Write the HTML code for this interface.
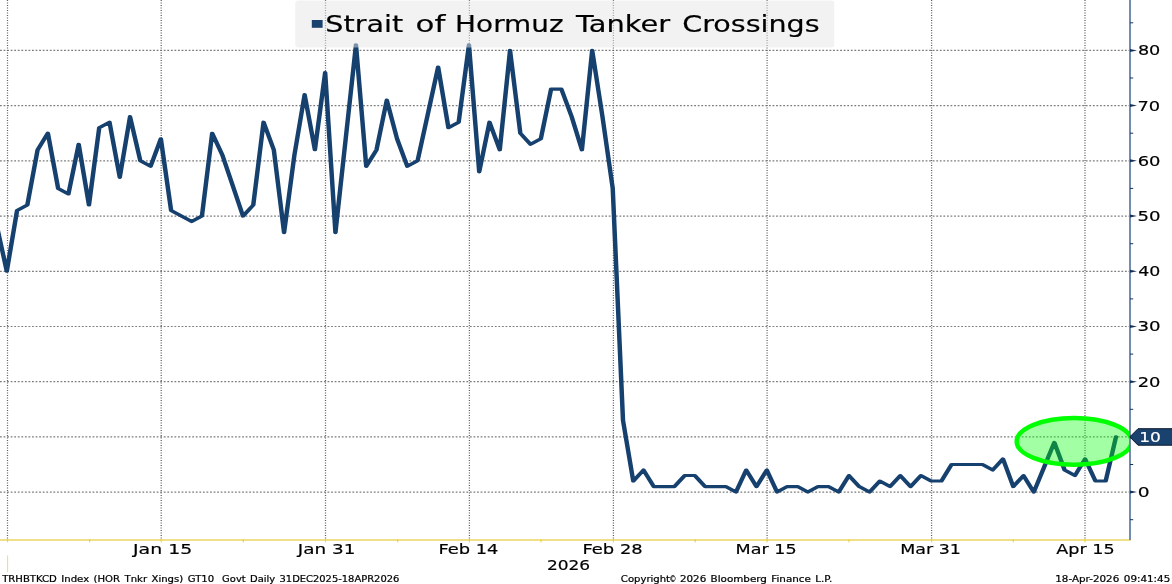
<!DOCTYPE html>
<html lang="en"><head><meta charset="utf-8"><title>Strait of Hormuz Tanker Crossings</title>
<style>
html,body{margin:0;padding:0;background:#fff;}
body{width:1172px;height:584px;overflow:hidden;}
svg{display:block;font-family:'DejaVu Sans','Liberation Sans',sans-serif;}
</style></head><body>
<svg width="1172" height="584" viewBox="0 0 1172 584">
<defs><clipPath id="plotclip"><rect x="0" y="0" width="1130" height="540"/></clipPath></defs>
<rect width="1172" height="584" fill="#fff"/>

<g stroke="#5e5e5e" stroke-width="1.1" fill="none">
<line x1="0" y1="492.1" x2="1129" y2="492.1" stroke="#7c7c7c" stroke-width="1.2" stroke-dasharray="1.8 1.76"/>
<line x1="0" y1="436.9" x2="1129" y2="436.9" stroke="#7c7c7c" stroke-width="1.2" stroke-dasharray="1.8 1.76"/>
<line x1="0" y1="381.7" x2="1129" y2="381.7" stroke="#7c7c7c" stroke-width="1.2" stroke-dasharray="1.8 1.76"/>
<line x1="0" y1="326.5" x2="1129" y2="326.5" stroke="#7c7c7c" stroke-width="1.2" stroke-dasharray="1.8 1.76"/>
<line x1="0" y1="271.3" x2="1129" y2="271.3" stroke="#7c7c7c" stroke-width="1.2" stroke-dasharray="1.8 1.76"/>
<line x1="0" y1="216.1" x2="1129" y2="216.1" stroke="#7c7c7c" stroke-width="1.2" stroke-dasharray="1.8 1.76"/>
<line x1="0" y1="160.8" x2="1129" y2="160.8" stroke="#7c7c7c" stroke-width="1.2" stroke-dasharray="1.8 1.76"/>
<line x1="0" y1="105.6" x2="1129" y2="105.6" stroke="#7c7c7c" stroke-width="1.2" stroke-dasharray="1.8 1.76"/>
<line x1="0" y1="50.4" x2="1129" y2="50.4" stroke="#7c7c7c" stroke-width="1.2" stroke-dasharray="1.8 1.76"/>
<line x1="7.5" y1="0" x2="7.5" y2="539" stroke-width="1.25" stroke-dasharray="1.1 1.4"/>
<line x1="161.2" y1="0" x2="161.2" y2="539" stroke-width="1.25" stroke-dasharray="1.1 1.4"/>
<line x1="325.5" y1="0" x2="325.5" y2="539" stroke-width="1.25" stroke-dasharray="1.1 1.4"/>
<line x1="469.4" y1="0" x2="469.4" y2="539" stroke-width="1.25" stroke-dasharray="1.1 1.4"/>
<line x1="613.4" y1="0" x2="613.4" y2="539" stroke-width="1.25" stroke-dasharray="1.1 1.4"/>
<line x1="767.1" y1="0" x2="767.1" y2="539" stroke-width="1.25" stroke-dasharray="1.1 1.4"/>
<line x1="931.6" y1="0" x2="931.6" y2="539" stroke-width="1.25" stroke-dasharray="1.1 1.4"/>
<line x1="1085.0" y1="0" x2="1085.0" y2="539" stroke-width="1.25" stroke-dasharray="1.1 1.4"/>
</g>
<g transform="scale(1.19,0.834)"><polyline points="-2.92,268.98 5.71,325.25 14.34,252.43 22.97,245.81 31.61,179.61 40.24,159.75 48.87,225.95 57.50,232.57 66.13,172.99 74.76,245.81 83.39,153.13 92.02,146.51 100.65,212.71 109.28,139.89 117.91,192.85 126.54,199.47 135.17,166.37 143.80,252.43 152.43,259.05 161.06,265.67 169.69,259.05 178.32,159.75 186.95,186.23 195.58,222.64 204.21,259.05 212.84,245.81 221.47,146.51 230.10,179.61 238.73,278.91 247.36,186.23 255.99,113.41 264.62,179.61 273.25,86.94 281.88,278.91 290.51,166.37 299.14,53.84 307.77,199.47 316.40,179.61 325.03,120.03 333.66,166.37 342.29,199.47 350.92,192.85 359.55,136.58 368.18,80.32 376.82,153.13 385.45,146.51 394.08,53.84 402.71,206.09 411.34,146.51 419.97,179.61 428.60,60.46 437.23,159.75 445.86,172.99 454.49,166.37 463.12,106.79 471.75,106.79 480.38,139.89 489.01,179.61 497.64,60.46 506.27,139.89 514.90,225.95 523.53,503.99 532.16,576.81 540.79,563.57 549.42,583.43 558.05,583.43 566.68,583.43 575.31,570.19 583.94,570.19 592.57,583.43 601.20,583.43 609.83,583.43 618.46,590.05 627.09,563.57 635.72,583.43 644.35,563.57 652.98,590.05 661.61,583.43 670.24,583.43 678.87,590.05 687.50,583.43 696.13,583.43 704.76,590.05 713.39,570.19 722.03,583.43 730.66,590.05 739.29,576.81 747.92,583.43 756.55,570.19 765.18,583.43 773.81,570.19 782.44,576.81 791.07,576.81 799.70,556.95 808.33,556.95 816.96,556.95 825.59,556.95 834.22,563.57 842.85,550.33 851.48,583.43 860.11,570.19 868.74,590.05 877.37,560.26 886.00,530.47 894.63,563.57 903.26,570.19 911.89,550.33 920.52,576.81 929.15,576.81 937.78,523.85" fill="none" stroke="#16406e" stroke-width="3.75" stroke-linejoin="round" stroke-linecap="round"/></g>
<rect x="295.3" y="0.5" width="538.9" height="46.9" rx="3" ry="3" fill="#e6e6e6" fill-opacity="0.5"/>
<rect x="311.8" y="20" width="10.8" height="7.8" fill="#1a426e"/>
<g clip-path="url(#plotclip)"><ellipse cx="1074.1" cy="441.4" rx="57.4" ry="23.4" fill="#00ff00" fill-opacity="0.36" stroke="#00ff00" stroke-width="4.5"/></g>
<line x1="0" y1="539.9" x2="1131" y2="539.9" stroke="#f0e08a" stroke-width="2"/>
<line x1="7.5" y1="539" x2="7.5" y2="542.2" stroke="#f0d23c" stroke-width="1.2"/>
<line x1="161.2" y1="539" x2="161.2" y2="542.2" stroke="#f0d23c" stroke-width="1.2"/>
<line x1="325.5" y1="539" x2="325.5" y2="542.2" stroke="#f0d23c" stroke-width="1.2"/>
<line x1="469.4" y1="539" x2="469.4" y2="542.2" stroke="#f0d23c" stroke-width="1.2"/>
<line x1="613.4" y1="539" x2="613.4" y2="542.2" stroke="#f0d23c" stroke-width="1.2"/>
<line x1="767.1" y1="539" x2="767.1" y2="542.2" stroke="#f0d23c" stroke-width="1.2"/>
<line x1="931.6" y1="539" x2="931.6" y2="542.2" stroke="#f0d23c" stroke-width="1.2"/>
<line x1="1085.0" y1="539" x2="1085.0" y2="542.2" stroke="#f0d23c" stroke-width="1.2"/>
<line x1="89.6" y1="539" x2="89.6" y2="542.2" stroke="#f0d23c" stroke-width="1.2"/>
<line x1="243.3" y1="539" x2="243.3" y2="542.2" stroke="#f0d23c" stroke-width="1.2"/>
<line x1="397.7" y1="539" x2="397.7" y2="542.2" stroke="#f0d23c" stroke-width="1.2"/>
<line x1="541.0" y1="539" x2="541.0" y2="542.2" stroke="#f0d23c" stroke-width="1.2"/>
<line x1="695.3" y1="539" x2="695.3" y2="542.2" stroke="#f0d23c" stroke-width="1.2"/>
<line x1="849.0" y1="539" x2="849.0" y2="542.2" stroke="#f0d23c" stroke-width="1.2"/>
<line x1="1013.3" y1="539" x2="1013.3" y2="542.2" stroke="#f0d23c" stroke-width="1.2"/>
<line x1="7.6" y1="555.5" x2="7.6" y2="572" stroke="#f0d860" stroke-width="0.9"/>
<line x1="1130" y1="0" x2="1130" y2="540" stroke="#6e87aa" stroke-width="1.9"/>
<polygon points="1130,490.6 1137,492.1 1130,493.6" fill="#16325c"/>
<polygon points="1130,435.4 1137,436.9 1130,438.4" fill="#16325c"/>
<polygon points="1130,380.2 1137,381.7 1130,383.2" fill="#16325c"/>
<polygon points="1130,325.0 1137,326.5 1130,328.0" fill="#16325c"/>
<polygon points="1130,269.8 1137,271.3 1130,272.8" fill="#16325c"/>
<polygon points="1130,214.6 1137,216.1 1130,217.6" fill="#16325c"/>
<polygon points="1130,159.3 1137,160.8 1130,162.3" fill="#16325c"/>
<polygon points="1130,104.1 1137,105.6 1130,107.1" fill="#16325c"/>
<polygon points="1130,48.9 1137,50.4 1130,51.9" fill="#16325c"/>
<line x1="1130" y1="519.7" x2="1133.2" y2="519.7" stroke="#16325c" stroke-width="1"/>
<line x1="1130" y1="464.5" x2="1133.2" y2="464.5" stroke="#16325c" stroke-width="1"/>
<line x1="1130" y1="409.3" x2="1133.2" y2="409.3" stroke="#16325c" stroke-width="1"/>
<line x1="1130" y1="354.1" x2="1133.2" y2="354.1" stroke="#16325c" stroke-width="1"/>
<line x1="1130" y1="298.9" x2="1133.2" y2="298.9" stroke="#16325c" stroke-width="1"/>
<line x1="1130" y1="243.7" x2="1133.2" y2="243.7" stroke="#16325c" stroke-width="1"/>
<line x1="1130" y1="188.4" x2="1133.2" y2="188.4" stroke="#16325c" stroke-width="1"/>
<line x1="1130" y1="133.2" x2="1133.2" y2="133.2" stroke="#16325c" stroke-width="1"/>
<line x1="1130" y1="78.0" x2="1133.2" y2="78.0" stroke="#16325c" stroke-width="1"/>
<line x1="1130" y1="22.8" x2="1133.2" y2="22.8" stroke="#16325c" stroke-width="1"/>
<polygon points="1129.8,436.9 1138,428.7 1173,428.7 1173,445.2 1138,445.2" fill="#1a426e" stroke="#0a1a30" stroke-width="1"/>
<text x="132.97" y="553.5" textLength="59.42" lengthAdjust="spacingAndGlyphs" font-size="14.1" fill="#000" stroke="#000" stroke-width="0.18">Jan 15</text>
<text x="297.79" y="553.5" textLength="57.61" lengthAdjust="spacingAndGlyphs" font-size="14.1" fill="#000" stroke="#000" stroke-width="0.18">Jan 31</text>
<text x="438.48" y="553.5" textLength="59.93" lengthAdjust="spacingAndGlyphs" font-size="14.1" fill="#000" stroke="#000" stroke-width="0.18">Feb 14</text>
<text x="582.51" y="553.5" textLength="60.17" lengthAdjust="spacingAndGlyphs" font-size="14.1" fill="#000" stroke="#000" stroke-width="0.18">Feb 28</text>
<text x="735.60" y="553.5" textLength="61.07" lengthAdjust="spacingAndGlyphs" font-size="14.1" fill="#000" stroke="#000" stroke-width="0.18">Mar 15</text>
<text x="900.19" y="553.5" textLength="60.71" lengthAdjust="spacingAndGlyphs" font-size="14.1" fill="#000" stroke="#000" stroke-width="0.18">Mar 31</text>
<text x="1056.23" y="553.5" textLength="58.39" lengthAdjust="spacingAndGlyphs" font-size="14.1" fill="#000" stroke="#000" stroke-width="0.18">Apr 15</text>
<text x="546.90" y="569.7" textLength="43.31" lengthAdjust="spacingAndGlyphs" font-size="14.3" fill="#000" stroke="#000" stroke-width="0.18">2026</text>
<text x="1137.69" y="497.0" textLength="11.87" lengthAdjust="spacingAndGlyphs" font-size="13.3" fill="#000" stroke="#000" stroke-width="0.18">0</text>
<text x="1137.73" y="386.5" textLength="22.75" lengthAdjust="spacingAndGlyphs" font-size="13.3" fill="#000" stroke="#000" stroke-width="0.18">20</text>
<text x="1137.46" y="331.3" textLength="23.06" lengthAdjust="spacingAndGlyphs" font-size="13.3" fill="#000" stroke="#000" stroke-width="0.18">30</text>
<text x="1138.21" y="276.1" textLength="22.07" lengthAdjust="spacingAndGlyphs" font-size="13.3" fill="#000" stroke="#000" stroke-width="0.18">40</text>
<text x="1137.42" y="220.9" textLength="23.05" lengthAdjust="spacingAndGlyphs" font-size="13.3" fill="#000" stroke="#000" stroke-width="0.18">50</text>
<text x="1137.69" y="165.7" textLength="22.77" lengthAdjust="spacingAndGlyphs" font-size="13.3" fill="#000" stroke="#000" stroke-width="0.18">60</text>
<text x="1137.54" y="110.5" textLength="22.69" lengthAdjust="spacingAndGlyphs" font-size="13.3" fill="#000" stroke="#000" stroke-width="0.18">70</text>
<text x="1137.90" y="55.3" textLength="22.45" lengthAdjust="spacingAndGlyphs" font-size="13.3" fill="#000" stroke="#000" stroke-width="0.18">80</text>
<text x="1139.28" y="442.1" textLength="21.69" lengthAdjust="spacingAndGlyphs" font-size="14.2" fill="#fff" stroke="#fff" stroke-width="0.2">10</text>
<text x="2.18" y="581.5" textLength="211.97" lengthAdjust="spacingAndGlyphs" font-size="8.0" fill="#000" stroke="#000" stroke-width="0.2" word-spacing="1.0">TRHBTKCD Index (HOR Tnkr Xings) GT10</text>
<text x="222.14" y="581.5" textLength="177.22" lengthAdjust="spacingAndGlyphs" font-size="8.0" fill="#000" stroke="#000" stroke-width="0.2" word-spacing="1.0">Govt Daily 31DEC2025-18APR2026</text>
<text x="1055.27" y="581.5" textLength="114.99" lengthAdjust="spacingAndGlyphs" font-size="8.0" fill="#000" stroke="#000" stroke-width="0.2" word-spacing="1.0">18-Apr-2026 09:41:45</text>
<text y="32.2" font-size="22.2" fill="#000" stroke="#000" stroke-width="0.18"><tspan x="325.26" textLength="77.89" lengthAdjust="spacingAndGlyphs">Strait</tspan> <tspan x="415.60" textLength="29.83" lengthAdjust="spacingAndGlyphs">of</tspan> <tspan x="455.14" textLength="108.43" lengthAdjust="spacingAndGlyphs">Hormuz</tspan> <tspan x="575.90" textLength="94.26" lengthAdjust="spacingAndGlyphs">Tanker</tspan> <tspan x="682.22" textLength="137.42" lengthAdjust="spacingAndGlyphs">Crossings</tspan></text>
<text y="581.5" font-size="8.0" fill="#000" stroke="#000" stroke-width="0.2"><tspan x="620.87" textLength="49.20" lengthAdjust="spacingAndGlyphs">Copyright</tspan><tspan x="669.40" textLength="6.80" lengthAdjust="spacingAndGlyphs">©</tspan> <tspan x="679.91" textLength="152.27" lengthAdjust="spacingAndGlyphs" word-spacing="0.8">2026 Bloomberg Finance L.P.</tspan></text>
</svg></body></html>
